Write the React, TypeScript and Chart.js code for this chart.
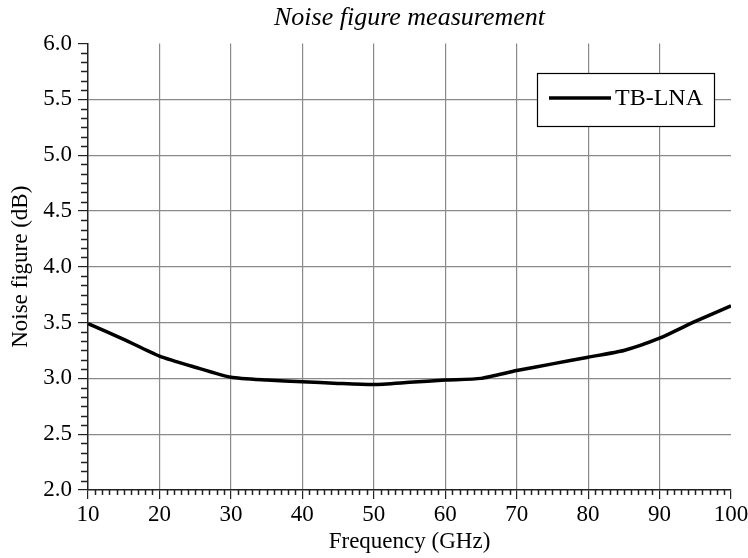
import React, { useEffect, useRef } from "react";
import { Chart, registerables } from "chart.js";

Chart.register(...registerables);

const frequencies = [10, 15, 20, 25, 30, 35, 40, 45, 50, 55, 60, 65, 70, 75, 80, 85, 90, 95, 100];
const noiseFigure = [3.49, 3.35, 3.2, 3.1, 3.01, 2.985, 2.97, 2.955, 2.945, 2.965, 2.985, 3.0, 3.07, 3.13, 3.19, 3.25, 3.36, 3.51, 3.65];
const seriesLabel = "TB-LNA";
const chartTitle = "Noise figure measurement";
const xTitle = "Frequency (GHz)";
const yTitle = "Noise figure (dB)";

const FONT = "'Liberation Serif', 'Times New Roman', serif";
const FS = 23;

const minorTicks = {
  id: "minorTicks",
  afterDraw(chart: any) {
    const { ctx, scales, chartArea } = chart;
    const x = scales.x;
    const y = scales.y;
    ctx.save();
    ctx.strokeStyle = "#222";
    ctx.lineWidth = 1.5;
    ctx.beginPath();
    for (let i = 1; i < 90; i++) {
      if (i % 10 === 0) continue;
      const px = Math.round(x.getPixelForValue(10 + i)) + 0.5;
      ctx.moveTo(px, chartArea.bottom);
      ctx.lineTo(px, chartArea.bottom + 5);
    }
    for (let i = 1; i < 48; i++) {
      if (i % 6 === 0) continue;
      const py = Math.round(y.getPixelForValue(2 + (i * 0.5) / 6)) + 0.5;
      ctx.moveTo(chartArea.left - 7, py);
      ctx.lineTo(chartArea.left, py);
    }
    ctx.stroke();

    // legend box
    const ds = chart.data.datasets[0];
    const bx = 537, by = 73, bw = 177, bh = 53;
    ctx.fillStyle = "#fff";
    ctx.fillRect(bx, by, bw, bh);
    ctx.strokeStyle = "#000";
    ctx.lineWidth = 1.2;
    ctx.strokeRect(bx + 0.5, by + 0.5, bw, bh);
    ctx.beginPath();
    ctx.lineWidth = 3.5;
    ctx.strokeStyle = ds.borderColor;
    ctx.moveTo(bx + 12, by + 25);
    ctx.lineTo(bx + 74, by + 25);
    ctx.stroke();
    ctx.fillStyle = "#000";
    ctx.font = `24px ${FONT}`;
    ctx.textAlign = "left";
    ctx.textBaseline = "middle";
    ctx.fillText(ds.label, bx + 78, by + 26);
    ctx.restore();
  },
};

export default function App() {
  const ref = useRef<HTMLCanvasElement>(null);
  useEffect(() => {
    if (!ref.current) return;
    const chart = new Chart(ref.current, {
      type: "line",
      data: {
        datasets: [
          {
            label: seriesLabel,
            data: frequencies.map((f, i) => ({ x: f, y: noiseFigure[i] })),
            borderColor: "#000",
            borderWidth: 3.5,
            pointRadius: 0,
            tension: 0.2,
            fill: false,
          },
        ],
      },
      options: {
        responsive: false,
        animation: false,
        layout: { padding: { left: 0, right: 17, top: 0, bottom: 0 } },
        plugins: {
          legend: { display: false },
          tooltip: { enabled: false },
          title: {
            display: true,
            fullSize: false,
            text: chartTitle,
            color: "#000",
            font: { family: FONT, size: 26, style: "italic", weight: "normal" },
            padding: { top: 2.4, bottom: 9.9 },
          },
        },
        scales: {
          x: {
            type: "linear",
            min: 10,
            max: 100,
            ticks: {
              stepSize: 10,
              color: "#000",
              font: { family: FONT, size: FS },
              padding: 2,
              maxRotation: 0,
            },
            grid: {
              color: (c: any) => (c.tick && (c.tick.value === 100 || c.tick.value === 10) ? "rgba(0,0,0,0)" : "#8a8a8a"),
              tickColor: "#222",
              tickLength: 9,
              lineWidth: 1.2,
            },
            border: { color: "#222", width: 1.5 },
            title: {
              display: true,
              text: xTitle,
              color: "#000",
              font: { family: FONT, size: FS },
              padding: { top: 0, bottom: 2.2 },
            },
            afterFit: (s: any) => {
              s.height = 68;
              s.paddingLeft = 0;
              s.paddingRight = 0;
            },
          },
          y: {
            min: 2,
            max: 6,
            ticks: {
              stepSize: 0.5,
              color: "#000",
              font: { family: FONT, size: FS },
              padding: 6,
              callback: (v: any) => Number(v).toFixed(1),
            },
            grid: {
              color: (c: any) => (c.tick && (c.tick.value === 6 || c.tick.value === 2) ? "rgba(0,0,0,0)" : "#8a8a8a"),
              tickColor: "#222",
              tickLength: 10,
              lineWidth: 1.2,
            },
            border: { color: "#222", width: 1.5 },
            title: {
              display: true,
              text: yTitle,
              color: "#000",
              font: { family: FONT, size: FS },
              padding: { top: 7.2, bottom: 0 },
            },
            afterFit: (s: any) => {
              s.width = 88;
            },
          },
        },
      },
      plugins: [minorTicks],
    });
    return () => chart.destroy();
  }, []);
  return (
    <div style={{ position: "fixed", left: 0, top: 0, width: 748, height: 558, background: "#fff" }}>
      <canvas ref={ref} width={748} height={558} />
    </div>
  );
}
